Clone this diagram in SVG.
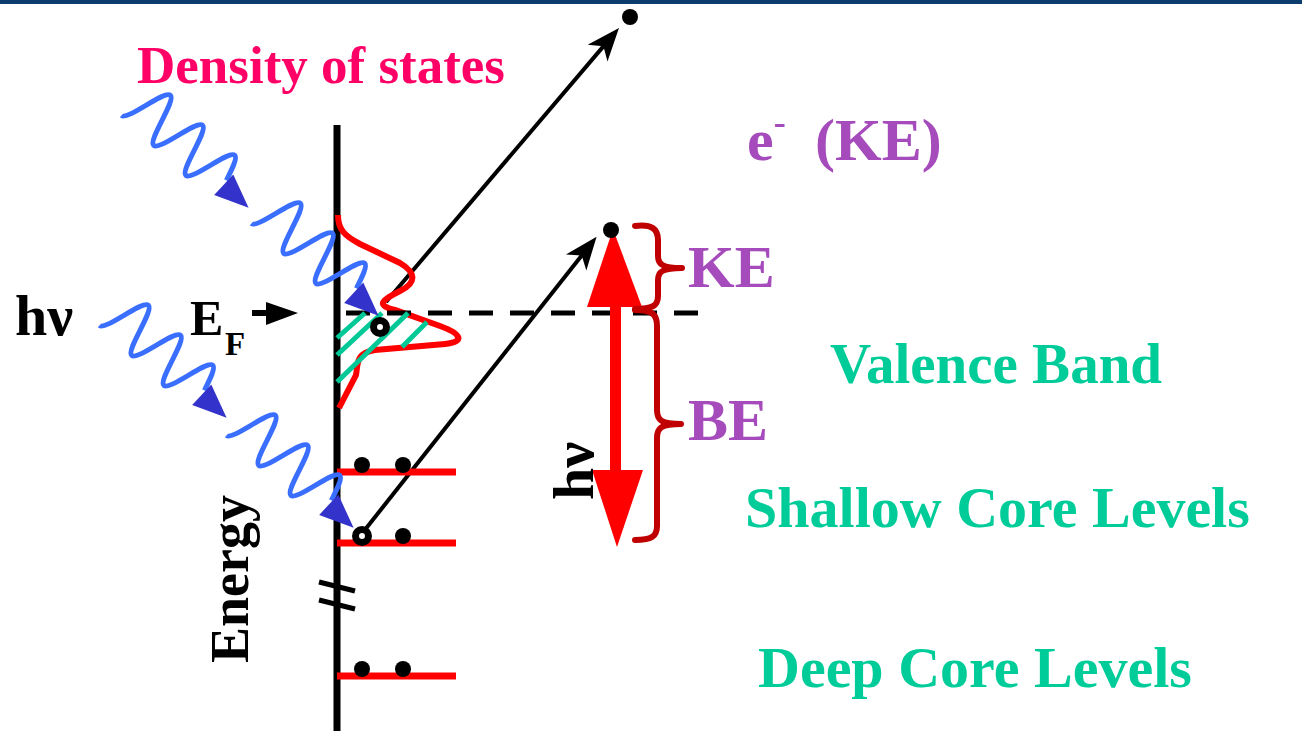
<svg xmlns="http://www.w3.org/2000/svg" width="1302" height="731" viewBox="0 0 1302 731">
<style>
.t{font-family:"Liberation Serif","Times New Roman",serif;font-weight:bold}
.lvl{stroke:#FF0000;stroke-width:7}
.dot{fill:#000}
.hole{fill:#fff;stroke:#000;stroke-width:7}
.hatch{stroke:#00C896;stroke-width:5}
.brace{fill:none;stroke:#C00000;stroke-width:6;stroke-linecap:round;stroke-linejoin:round}
.arr{stroke:#000;stroke-width:4;fill:none}
.teal{fill:#00CC99}
.purple{fill:#A54BBB}
</style>
<defs>
<marker id="ah" markerWidth="40" markerHeight="30" viewBox="-26 -15 40 30" refX="0" refY="0" orient="auto" markerUnits="userSpaceOnUse">
<path d="M10,0 L-23,-13 L-14,0 L-23,13 Z" fill="#000"/>
</marker>
<g id="wave">
<path d="M0,24 c3.984,0 7.414,-11.7 11,-24 s7.016,-24 11,-24 s7.414,11.7 11,24 s7.016,24 11,24 s7.414,-11.7 11,-24 s7.016,-24 11,-24 s7.414,11.7 11,24 s7.016,24 11,24 s7.414,-11.7 11,-24 s7.016,-24 11,-24 s7.414,11.7 11,24" fill="none" stroke="#3A6EFF" stroke-width="5"/>
<polygon points="122,-9 122,19 156,5" fill="#3333CC"/>
</g>
</defs>
<rect x="0" y="0" width="1302" height="731" fill="#fff"/>
<rect x="0" y="0" width="1302" height="4" fill="#0C3C6E"/>

<g id="axis">
<line x1="337" y1="125" x2="337" y2="731" stroke="#000" stroke-width="7"/>
<line x1="319" y1="582" x2="355" y2="591" stroke="#000" stroke-width="5"/>
<line x1="319" y1="600" x2="355" y2="609" stroke="#000" stroke-width="5"/>
<text class="t" font-size="54" transform="translate(248,663) rotate(-90)">Energy</text>
</g>

<g id="connectors">
<line class="arr" x1="386" y1="302" x2="612.5" y2="35.6" marker-end="url(#ah)"/>
<line class="arr" x1="364" y1="531" x2="590.4" y2="244.5" marker-end="url(#ah)"/>
</g>

<g id="dos">
<path d="M338,215 C338,230 345,236 360,244 L400,263 C415,272 418,282 400,291 C382,300 375,305 395,310 L440,326 C462,334 465,342 445,344 L375,350 C355,353 358,365 356,375 L339,408" fill="none" stroke="#FF0000" stroke-width="6"/>
</g>

<g id="fermi">
<line x1="698" y1="313" x2="337" y2="313" stroke="#000" stroke-width="5" stroke-dasharray="24 17"/>
<rect x="252" y="310" width="16" height="6" fill="#000"/>
<polygon points="266,302 298,313 266,325" fill="#000"/>
<text class="t" font-size="50" x="190" y="335">E</text>
<text class="t" font-size="33" x="225" y="355">F</text>
</g>

<g id="hatching">
<line class="hatch" x1="337" y1="338" x2="365" y2="313"/>
<line class="hatch" x1="337" y1="355" x2="382" y2="313"/>
<line class="hatch" x1="337" y1="382" x2="408" y2="313"/>
<line class="hatch" x1="402" y1="347" x2="427" y2="322"/>
</g>

<g id="levels">
<line class="lvl" x1="337" y1="472" x2="456" y2="472"/>
<line class="lvl" x1="337" y1="543" x2="456" y2="543"/>
<line class="lvl" x1="337" y1="676" x2="456" y2="676"/>
<circle class="dot" cx="362" cy="465" r="8"/>
<circle class="dot" cx="403" cy="465" r="8"/>
<circle class="dot" cx="403" cy="536" r="8"/>
<circle class="dot" cx="362" cy="669" r="8"/>
<circle class="dot" cx="403" cy="669" r="8"/>
<circle class="hole" cx="362" cy="536" r="6.5"/>
<circle class="hole" cx="380" cy="327" r="6.5"/>
</g>

<g id="photons">
<use href="#wave" transform="translate(137.9,97.8) rotate(43)"/>
<use href="#wave" transform="translate(267.9,205.8) rotate(43)"/>
<use href="#wave" transform="translate(115.9,307.8) rotate(43)"/>
<use href="#wave" transform="translate(242.9,417.8) rotate(43)"/>
<text class="t" font-size="58" x="15" y="335">hν</text>
</g>

<g id="hv-arrow">
<rect x="610" y="300" width="11" height="175" fill="#FF0000"/>
<polygon points="587,307 642,307 613,229" fill="#FF0000"/>
<polygon points="592,470 643,470 617,547" fill="#FF0000"/>
<circle class="dot" cx="611" cy="230" r="8"/>
<text class="t" font-size="58" transform="translate(593,500) rotate(-90)">hν</text>
</g>

<g id="ke-brace">
<path class="brace" d="M635,226 C652,224 658,229 658,240 L658,256 C658,264 662,268 682,268 C662,268 658,272 658,280 L658,296 C658,306 652,309 635,309"/>
<text class="t purple" font-size="60" x="688" y="287">KE</text>
</g>

<g id="be-brace">
<path class="brace" d="M635,310 C652,310 657,314 657,326 L657,410 C657,420 661,424 681,424 C661,424 657,428 657,438 L657,526 C657,536 652,540 635,540"/>
<text class="t purple" font-size="60" x="688" y="440">BE</text>
</g>

<g id="electron">
<circle class="dot" cx="630" cy="17" r="8"/>
<text class="t purple" font-size="60" x="747" y="160">e<tspan font-size="36" dy="-26">-</tspan><tspan dy="26" x="815">(KE)</tspan></text>
</g>

<g id="labels">
<text class="t" font-size="53" x="137" y="83" fill="#FF0066">Density of states</text>
<text class="t teal" font-size="57" x="830" y="383">Valence Band</text>
<text class="t teal" font-size="58" x="745" y="527">Shallow Core Levels</text>
<text class="t teal" font-size="58" x="758" y="687">Deep Core Levels</text>
</g>
</svg>
